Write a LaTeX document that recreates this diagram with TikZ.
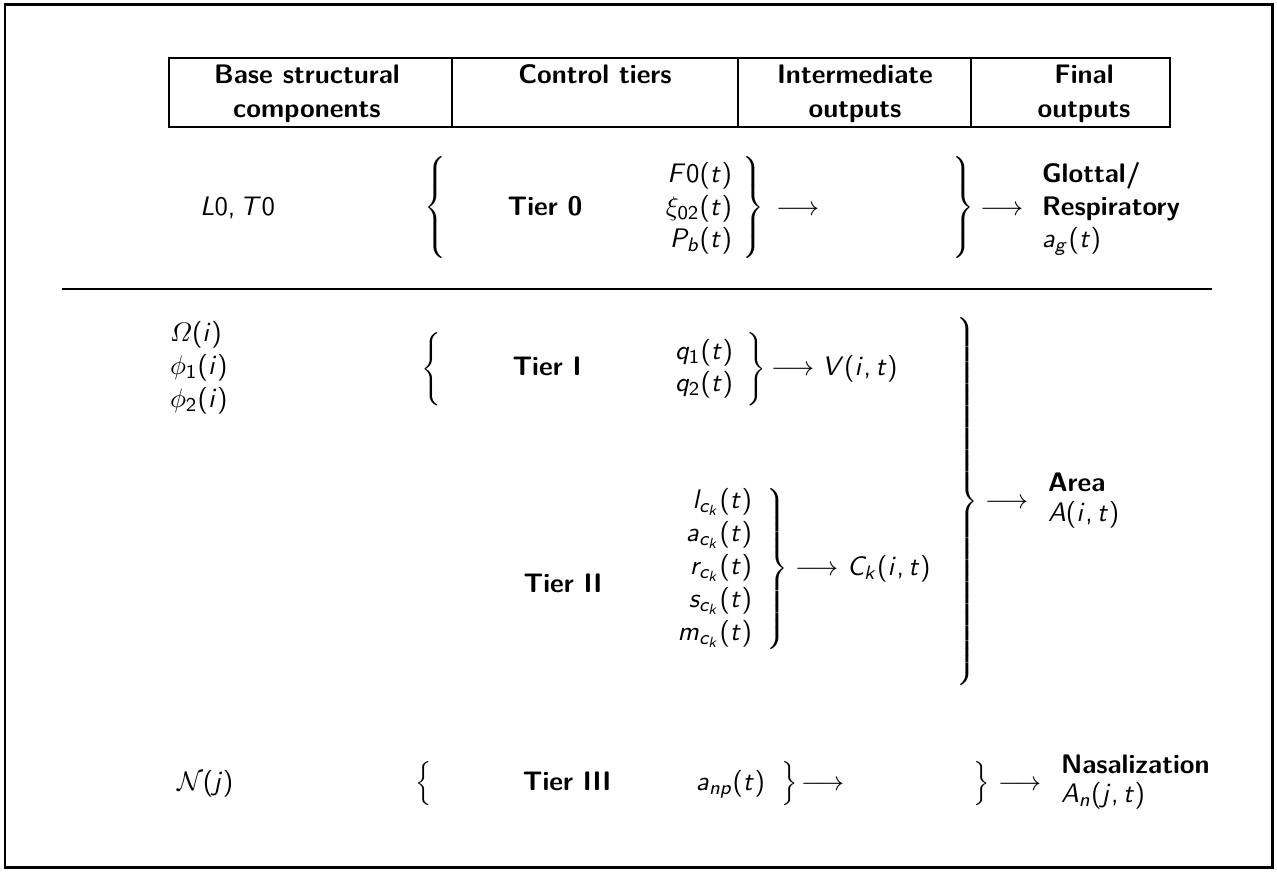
\documentclass[tikz,border=0pt]{standalone}
% Sans-serif math in the style of beamer: slanted sans letters, upright sans
% digits and parentheses, Greek and symbols from the standard math fonts.
\makeatletter
\DeclareSymbolFont{sfup}{OT1}{cmss}{m}{n}
\DeclareSymbolFont{sfit}{OT1}{cmss}{m}{sl}
\def\sfmathletter#1{\DeclareMathSymbol{#1}{\mathalpha}{sfit}{`#1}}
\def\sfmathdigit#1{\DeclareMathSymbol{#1}{\mathalpha}{sfup}{`#1}}
\@tfor\@ch:=abcdefghijklmnopqrstuvwxyzABCDEFGHIJKLMNOPQRSTUVWXYZ\do{\expandafter\sfmathletter\@ch}
\@tfor\@ch:=0123456789\do{\expandafter\sfmathdigit\@ch}
\DeclareMathSymbol{(}{\mathopen}{sfup}{`(}
\DeclareMathSymbol{)}{\mathclose}{sfup}{`)}
\DeclareMathSymbol{,}{\mathpunct}{sfup}{`,}
\makeatother

% Extensible braces of a given total height, centred on the math axis
\newcommand{\lbr}[1]{$\delimiterfactor=1000 \delimitershortfall=0pt
  \left\{\vcenter{\hbox{\rule{0pt}{#1}}}\right.$}
\newcommand{\rbr}[1]{$\delimiterfactor=1000 \delimitershortfall=0pt
  \left.\vcenter{\hbox{\rule{0pt}{#1}}}\right\}$}

\tikzset{
  lbl/.style={inner sep=0pt, outer sep=0pt, font=\fontsize{10.95}{13.6}\selectfont\sffamily},
  hdr/.style={lbl, font=\fontsize{10.95}{13.7}\selectfont\sffamily\bfseries, align=center, anchor=north},
  bold/.style={lbl, font=\fontsize{10.95}{13.6}\selectfont\sffamily\bfseries},
  mth/.style={lbl},
  brc/.style={lbl, anchor=center},
  frame/.style={line width=0.85pt},
  rule/.style={line width=0.65pt},
}

\begin{document}
\begin{tikzpicture}[x=0.4086pt, y=-0.4086pt]
\useasboundingbox (0,0) rectangle (1277,871);

% outer frame
\draw[frame] (5,4.5) rectangle (1272.5,867.5);

% column headings
\draw[rule] (169,58) rectangle (1170,127);
\draw[rule] (452,58) -- (452,127);
\draw[rule] (738,58) -- (738,127);
\draw[rule] (971,58) -- (971,127);
\node[hdr] (h1) at (307,65) {Base structural\\components};
\node[hdr] (h2) at (595,65) {Control tiers};
\node[hdr] (h3) at (855,65) {Intermediate\\outputs};
\node[hdr] (h4) at (1084,65) {Final\\outputs};

% Tier 0: glottal / respiratory
\node[mth, anchor=base west] (b0) at (200,215) {$L0, T0$};
\node[brc] (lb0) at (437,207.5) {\lbr{40pt}};
\node[bold, anchor=base] (tier0) at (545,215) {Tier 0};
\node[mth, anchor=base east] (f0) at (732,182.5) {$F0(t)$};
\node[mth, anchor=base east] (xi) at (732,215) {$\xi_{02}(t)$};
\node[mth, anchor=base east] (pb) at (732,247.5) {$P_b(t)$};
\node[brc] (rb0) at (752,207.5) {\rbr{40pt}};
\node[mth, anchor=base west] (ar0a) at (776,215) {$\longrightarrow$};
\node[brc] (rb0b) at (962,207.5) {\rbr{40pt}};
\node[mth, anchor=base west] (ar0b) at (980,215) {$\longrightarrow$};
\node[bold, anchor=base west] (glot) at (1042,182.5) {Glottal/};
\node[bold, anchor=base west] (resp) at (1042,215) {Respiratory};
\node[mth, anchor=base west] (ag) at (1042,247.5) {$a_g(t)$};

% separator
\draw[rule] (62,289) -- (1212,289);

% Tier I: vocalic base
\node[mth, anchor=base west] (om) at (170,341.5) {$\mathnormal{\Omega}(i)$};
\node[mth, anchor=base west] (ph1) at (170,374.5) {$\phi_1(i)$};
\node[mth, anchor=base west] (ph2) at (170,407.5) {$\phi_2(i)$};
\node[brc] (lb1) at (433,369) {\lbr{29.4pt}};
\node[bold, anchor=base] (tier1) at (547,375.5) {Tier I};
\node[mth, anchor=base east] (q1) at (733,359) {$q_1(t)$};
\node[mth, anchor=base east] (q2) at (733,391) {$q_2(t)$};
\node[brc] (rb1) at (755,369) {\rbr{29.4pt}};
\node[mth, anchor=base west] (ar1) at (771,375.5) {$\longrightarrow$};
\node[mth, anchor=base west] (vit) at (822,375.5) {$V(i, t)$};

% Tier II: constrictions
\node[bold, anchor=base] (tier2) at (563,592) {Tier II};
\node[mth, anchor=base east] (lck) at (752,508.5) {$l_{c_k}(t)$};
\node[mth, anchor=base east] (ack) at (752,541.5) {$a_{c_k}(t)$};
\node[mth, anchor=base east] (rck) at (752,574.5) {$r_{c_k}(t)$};
\node[mth, anchor=base east] (sck) at (752,607.5) {$s_{c_k}(t)$};
\node[mth, anchor=base east] (mck) at (752,640.5) {$m_{c_k}(t)$};
\node[brc] (rb2) at (776,569) {\rbr{63pt}};
\node[mth, anchor=base west] (ar2) at (795,575.5) {$\longrightarrow$};
\node[mth, anchor=base west] (ck) at (847,575.5) {$C_k(i, t)$};

% area function
\node[brc] (rbA) at (966,501.5) {\rbr{150pt}};
\node[mth, anchor=base west] (arA) at (985,508) {$\longrightarrow$};
\node[bold, anchor=base west] (area) at (1048,491) {Area};
\node[mth, anchor=base west] (ait) at (1048,521) {$A(i, t)$};

% Tier III: nasalization
\node[mth, anchor=base west] (nj) at (177,790) {$\mathcal{N}(j)$};
\node[brc] (lb3) at (425,783.5) {\lbr{17.6pt}};
\node[bold, anchor=base] (tier3) at (567,790) {Tier III};
\node[mth, anchor=base east] (anp) at (765,790) {$a_{np}(t)$};
\node[brc] (rb3) at (788,783.5) {\rbr{17.6pt}};
\node[mth, anchor=base west] (ar3a) at (801,790) {$\longrightarrow$};
\node[brc] (rb3b) at (980,783.5) {\rbr{17.6pt}};
\node[mth, anchor=base west] (ar3b) at (998,790) {$\longrightarrow$};
\node[bold, anchor=base west] (nasal) at (1061,773) {Nasalization};
\node[mth, anchor=base west] (anj) at (1061,802) {$A_n(j, t)$};
\end{tikzpicture}
\end{document}
